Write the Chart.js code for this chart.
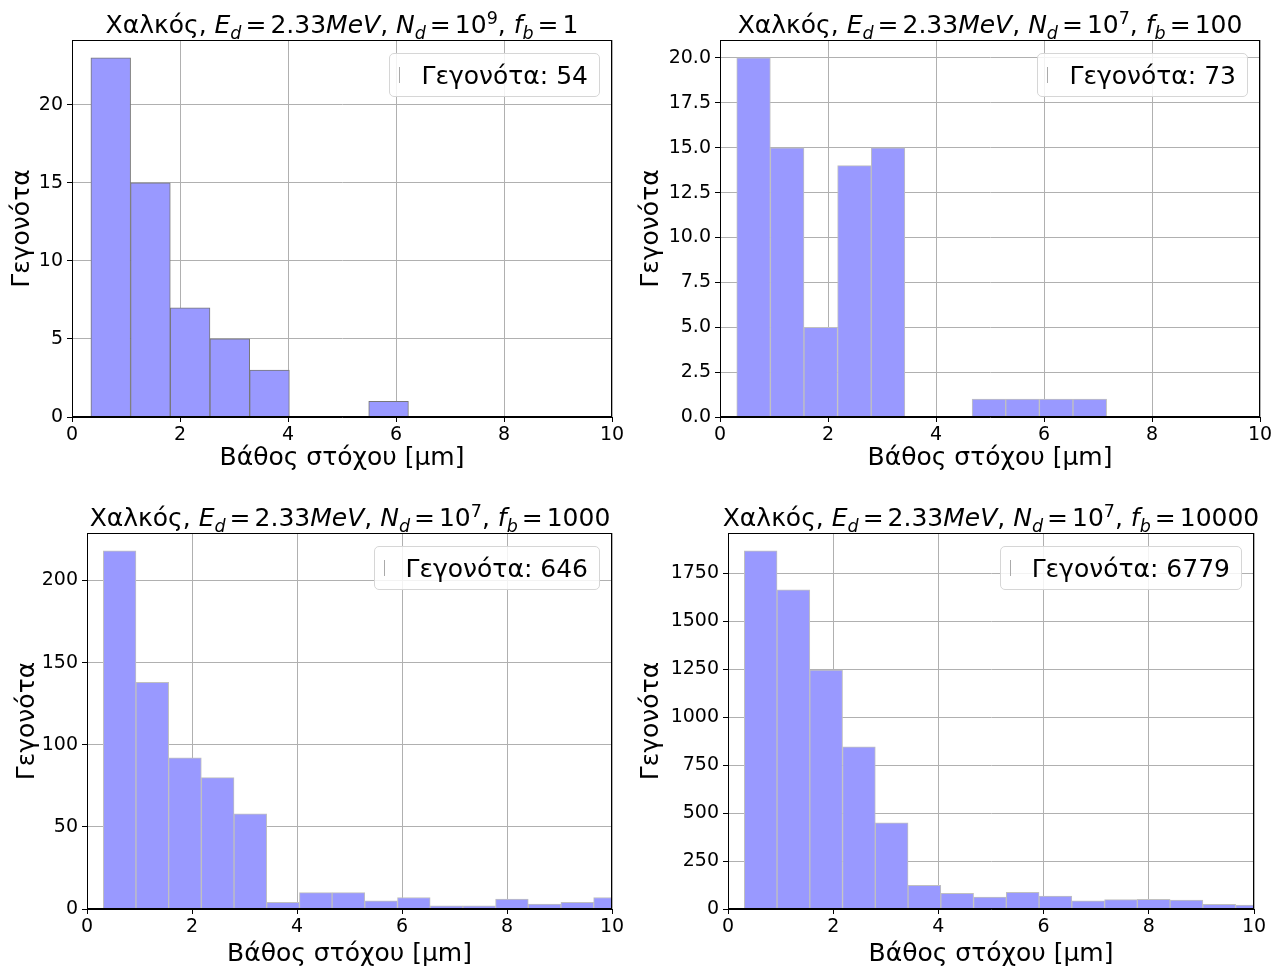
<!DOCTYPE html>
<html>
<head>
<meta charset="utf-8">
<script src="https://cdn.jsdelivr.net/npm/chart.js@4.4.1/dist/chart.umd.min.js"></script>
<style>
  body { margin: 0; background: #fff; width: 1283px; height: 966px; position: relative; overflow: hidden; font-family: 'DejaVu Sans', sans-serif; }
  canvas { position: absolute; }
  .title { position: absolute; width: 800px; text-align: center; font-size: 25px; line-height: 28px; white-space: nowrap; color: #000; }
  .title sub, .title sup { font-size: 70%; line-height: 0; }
  .title .eq { margin: 0 4px; }
  .legend { position: absolute; height: 42px; display: flex; align-items: center; padding: 0 11px 0 9px; border: 1px solid #d6d6d6; border-radius: 5px; background: rgba(255,255,255,0.85); font-size: 25px; color: #000; white-space: nowrap; }
  .legend .handle { width: 1px; height: 16px; background: #aaa; margin-right: 21px; }
</style>
</head>
<body>
<canvas id="h1" width="630" height="480" style="left:0;top:0"></canvas>
<canvas id="h2" width="653" height="480" style="left:630px;top:0"></canvas>
<canvas id="h3" width="630" height="486" style="left:0;top:480px"></canvas>
<canvas id="h4" width="653" height="486" style="left:630px;top:480px"></canvas>

<div class="title" style="left:-58px;top:11px">Χαλκός, <i>E</i><sub><i>d</i></sub><span class="eq">=</span>2.33<i>MeV</i>, <i>N</i><sub><i>d</i></sub><span class="eq">=</span>10<sup>9</sup>, <i>f</i><sub><i>b</i></sub><span class="eq">=</span>1</div>
<div class="title" style="left:590px;top:11px">Χαλκός, <i>E</i><sub><i>d</i></sub><span class="eq">=</span>2.33<i>MeV</i>, <i>N</i><sub><i>d</i></sub><span class="eq">=</span>10<sup>7</sup>, <i>f</i><sub><i>b</i></sub><span class="eq">=</span>100</div>
<div class="title" style="left:-50px;top:504px">Χαλκός, <i>E</i><sub><i>d</i></sub><span class="eq">=</span>2.33<i>MeV</i>, <i>N</i><sub><i>d</i></sub><span class="eq">=</span>10<sup>7</sup>, <i>f</i><sub><i>b</i></sub><span class="eq">=</span>1000</div>
<div class="title" style="left:591px;top:504px">Χαλκός, <i>E</i><sub><i>d</i></sub><span class="eq">=</span>2.33<i>MeV</i>, <i>N</i><sub><i>d</i></sub><span class="eq">=</span>10<sup>7</sup>, <i>f</i><sub><i>b</i></sub><span class="eq">=</span>10000</div>

<div class="legend" id="lg1" style="right:683px;top:53px"><span class="handle"></span><span id="lt1"></span></div>
<div class="legend" id="lg2" style="right:35px;top:53px"><span class="handle"></span><span id="lt2"></span></div>
<div class="legend" id="lg3" style="right:683px;top:546px"><span class="handle"></span><span id="lt3"></span></div>
<div class="legend" id="lg4" style="right:41px;top:546px"><span class="handle"></span><span id="lt4"></span></div>

<script>
// x axis (depth in μm), shared by all four panels
const xTicks = [0, 2, 4, 6, 8, 10];

// panel 1: N_d = 10^9, f_b = 1
const edges1 = [0.350, 1.085, 1.820, 2.555, 3.290, 4.025, 4.760, 5.495, 6.230];
const counts1 = [23, 15, 7, 5, 3, 0, 0, 1];
const yTicks1 = [0, 5, 10, 15, 20];
const total1 = 54;

// panels 2-4 share the same bin edges
const edges = [0.310, 0.933, 1.555, 2.178, 2.801, 3.423, 4.046, 4.669, 5.291, 5.914,
               6.537, 7.160, 7.782, 8.405, 9.028, 9.650, 10.273];

// panel 2: f_b = 100
const counts2 = [20, 15, 5, 14, 15, 0, 0, 1, 1, 1, 1];
const yTicks2 = [0, 2.5, 5, 7.5, 10, 12.5, 15, 17.5, 20];
const total2 = 73;

// panel 3: f_b = 1000
const counts3 = [218, 138, 92, 80, 58, 4, 10, 10, 5, 7, 2, 2, 6, 3, 4, 7];
const yTicks3 = [0, 50, 100, 150, 200];
const total3 = 646;

// panel 4: f_b = 10000
const counts4 = [1868, 1665, 1246, 846, 449, 124, 82, 62, 87, 67, 43, 49, 51, 46, 25, 20];
const yTicks4 = [0, 250, 500, 750, 1000, 1250, 1500, 1750];
const total4 = 6779;

const FONT = "'DejaVu Sans', sans-serif";

// draw the full box around the plot area (top and right spines too)
const framePlugin = {
  id: 'frame',
  afterDatasetsDraw(chart) {
    const a = chart.chartArea;
    const ctx = chart.ctx;
    ctx.save();
    ctx.strokeStyle = '#000';
    ctx.lineWidth = 1;
    ctx.strokeRect(Math.round(a.left) + 0.5, Math.round(a.top) + 0.5,
                   Math.round(a.right - a.left) - 1, Math.round(a.bottom - a.top) - 1);
    ctx.restore();
  }
};

function histogram(id, binEdges, counts, yTicks, yMax, cfg) {
  const points = counts.map((c, i) => ({ x: (binEdges[i] + binEdges[i + 1]) / 2, y: c }));
  return new Chart(document.getElementById(id), {
    type: 'bar',
    data: {
      datasets: [{
        label: 'Γεγονότα',
        data: points,
        backgroundColor: '#9999ff',
        borderColor: cfg.edge,
        borderWidth: 1,
        barPercentage: 1,
        categoryPercentage: 1
      }]
    },
    options: {
      responsive: false,
      animation: false,
      devicePixelRatio: 1,
      layout: { padding: { left: 0, right: cfg.right, top: cfg.top, bottom: 0 } },
      plugins: { legend: { display: false }, tooltip: { enabled: false } },
      scales: {
        x: {
          type: 'linear',
          min: 0,
          max: 10,
          offset: false,
          afterBuildTicks: s => { s.ticks = xTicks.map(v => ({ value: v })); },
          afterFit: s => { s.height = cfg.xh; },
          grid: { color: '#b0b0b0', tickColor: '#000', tickLength: 5, offset: false },
          border: { color: '#000', width: 1 },
          ticks: { color: '#000', font: { family: FONT, size: 19 }, padding: 2, maxRotation: 0 },
          title: {
            display: true, text: 'Βάθος στόχου [μm]', color: '#000',
            font: { family: FONT, size: 25 }, padding: { top: 0, bottom: cfg.xpad }
          }
        },
        y: {
          min: 0,
          max: yMax,
          afterBuildTicks: s => { s.ticks = yTicks.map(v => ({ value: v })); },
          afterFit: s => { s.width = cfg.yw; },
          grid: { color: '#b0b0b0', tickColor: '#000', tickLength: 5 },
          border: { color: '#000', width: 1 },
          ticks: {
            color: '#000', font: { family: FONT, size: 19 }, padding: 4,
            callback: v => cfg.dec ? v.toFixed(1) : String(v)
          },
          title: {
            display: true, text: 'Γεγονότα', color: '#000',
            font: { family: FONT, size: 25 }, padding: { top: cfg.ypad, bottom: 0 }
          }
        }
      }
    },
    plugins: [framePlugin]
  });
}

histogram('h1', edges1, counts1, yTicks1, 24.15,
  { edge: '#777777', right: 18, top: 40, xh: 63, yw: 72, xpad: 7, ypad: 7, dec: false });
histogram('h2', edges, counts2, yTicks2, 21,
  { edge: '#c0c0c0', right: 23, top: 40, xh: 63, yw: 90, xpad: 7, ypad: 6, dec: true });
histogram('h3', edges, counts3, yTicks3, 228.9,
  { edge: '#c0c0c0', right: 18, top: 53, xh: 57, yw: 87, xpad: -3, ypad: 12, dec: false });
histogram('h4', edges, counts4, yTicks4, 1961,
  { edge: '#c0c0c0', right: 29, top: 53, xh: 57, yw: 98, xpad: -3, ypad: 6, dec: false });

document.getElementById('lt1').textContent = 'Γεγονότα: ' + total1;
document.getElementById('lt2').textContent = 'Γεγονότα: ' + total2;
document.getElementById('lt3').textContent = 'Γεγονότα: ' + total3;
document.getElementById('lt4').textContent = 'Γεγονότα: ' + total4;
</script>
</body>
</html>
